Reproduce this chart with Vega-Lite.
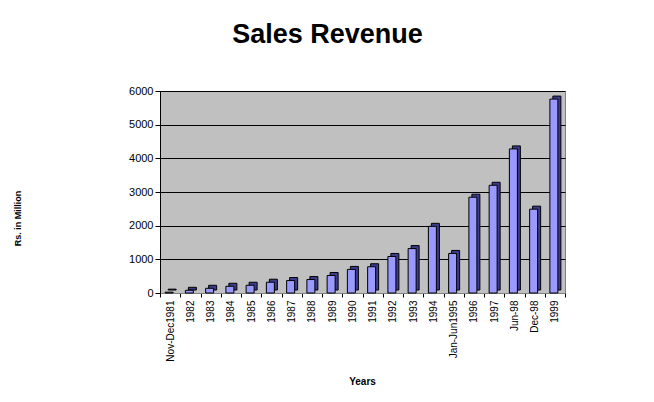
{
  "$schema": "https://vega.github.io/schema/vega-lite/v6.json",
  "autosize": "none",
  "width": 405,
  "height": 202,
  "padding": {"left": 160, "top": 91, "right": 89, "bottom": 109},
  "background": "white",
  "title": {
    "text": "Sales Revenue",
    "font": "Liberation Sans",
    "fontSize": 27,
    "fontWeight": "bold",
    "color": "black",
    "anchor": "middle",
    "dx": -35,
    "offset": 36
  },
  "config": {
    "view": {"fill": "#C0C0C0", "stroke": "#808080", "strokeWidth": 1},
    "font": "Liberation Sans"
  },
  "data": {
    "values": [
      {"period": "Nov-Dec1981", "revenue": 25},
      {"period": "1982", "revenue": 80},
      {"period": "1983", "revenue": 140},
      {"period": "1984", "revenue": 200},
      {"period": "1985", "revenue": 230},
      {"period": "1986", "revenue": 320},
      {"period": "1987", "revenue": 370},
      {"period": "1988", "revenue": 400},
      {"period": "1989", "revenue": 520},
      {"period": "1990", "revenue": 700},
      {"period": "1991", "revenue": 780},
      {"period": "1992", "revenue": 1085},
      {"period": "1993", "revenue": 1320},
      {"period": "1994", "revenue": 1980},
      {"period": "Jan-Jun1995", "revenue": 1175},
      {"period": "1996", "revenue": 2845},
      {"period": "1997", "revenue": 3200},
      {"period": "Jun-98", "revenue": 4280},
      {"period": "Dec-98", "revenue": 2490},
      {"period": "1999", "revenue": 5760}
    ]
  },
  "encoding": {
    "x": {
      "field": "period",
      "type": "nominal",
      "sort": null,
      "scale": {"paddingInner": 0, "paddingOuter": 0},
      "axis": {
        "title": "Years",
        "titleFont": "Liberation Sans",
        "titleFontSize": 10,
        "titleFontWeight": "bold",
        "titleColor": "black",
        "titleX": 202,
        "titleY": 88,
        "titleBaseline": "middle",
        "labelAngle": -90,
        "labelFontSize": 10,
        "labelColor": "black",
        "labelPadding": 3,
        "tickBand": "extent",
        "tickColor": "black",
        "tickSize": 4,
        "domainColor": "#808080",
        "grid": false
      }
    },
    "y": {
      "field": "revenue",
      "type": "quantitative",
      "scale": {"domain": [0, 6000], "nice": false},
      "axis": {
        "title": "Rs. in Million",
        "titleFont": "Liberation Sans",
        "titleFontSize": 9,
        "titleFontWeight": "bold",
        "titleColor": "black",
        "titleAngle": -90,
        "titleX": -143,
        "titleY": 127,
        "titleAlign": "center",
        "titleBaseline": "middle",
        "values": [0, 1000, 2000, 3000, 4000, 5000, 6000],
        "format": "d",
        "labelFontSize": 11,
        "labelColor": "black",
        "labelPadding": 2,
        "tickColor": "black",
        "tickSize": 5,
        "domainColor": "black",
        "grid": true,
        "gridColor": "black",
        "gridWidth": 1,
        "gridOpacity": 1
      }
    }
  },
  "layer": [
    {
      "mark": {"type": "bar", "size": 8, "color": "#3C3C8C", "stroke": "black", "strokeWidth": 1, "xOffset": 2, "yOffset": -3}
    },
    {
      "mark": {"type": "bar", "size": 8, "color": "#9999FF", "stroke": "black", "strokeWidth": 1, "xOffset": -1}
    }
  ]
}
